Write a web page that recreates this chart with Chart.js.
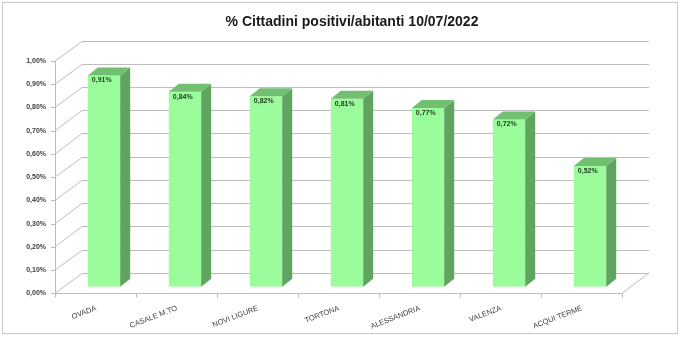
<!DOCTYPE html>
<html lang="it">
<head>
    <meta charset="UTF-8">
    <title>% Cittadini positivi/abitanti 10/07/2022</title>
    <script src="https://cdn.jsdelivr.net/npm/chart.js"></script>
    <style>
        body { margin: 0; background: #fff; }
        #wrap { width: 680px; height: 337px; position: relative; }
    </style>
</head>
<body>
    <div id="wrap"><canvas id="positiviChart"></canvas></div>
    <script>
        const categories = ['OVADA', 'CASALE M.TO', 'NOVI LIGURE', 'TORTONA', 'ALESSANDRIA', 'VALENZA', 'ACQUI TERME'];
        const positivi = [0.91, 0.84, 0.82, 0.81, 0.77, 0.72, 0.52];
        const yMin = 0, yMax = 1.0, yStep = 0.1;

        // 3D look: offset of axis plane and back wall from the bar plane
        const axisOff = { x: -8.5, y: 6.5 };
        const backOff = { x: 18.5, y: -14 };
        const depth = { x: 10, y: -8 };
        const gridColor = '#bdbdbd';

        const fmt = v => v.toFixed(2).replace('.', ',') + '%';

        const frame3d = {
            id: 'frame3d',
            beforeDraw(chart) {
                const c = chart.ctx;
                c.save();
                c.fillStyle = '#fff';
                c.fillRect(0, 0, chart.width, chart.height);
                c.strokeStyle = '#c8c8c8';
                c.lineWidth = 1;
                c.strokeRect(2.5, 2.5, 675, 331);
                c.restore();
            },
            beforeDatasetsDraw(chart) {
                const c = chart.ctx, x = chart.scales.x, y = chart.scales.y;
                const L = x.left, R = x.right, y0 = y.getPixelForValue(0);
                c.save();
                c.strokeStyle = gridColor;
                c.lineWidth = 1;
                c.beginPath();
                y.ticks.forEach(t => {
                    const py = Math.round(y.getPixelForValue(t.value) + backOff.y) + 0.5;
                    c.moveTo(L + backOff.x, py);
                    c.lineTo(R + backOff.x, py);
                    c.moveTo(L + axisOff.x, y.getPixelForValue(t.value) + axisOff.y);
                    c.lineTo(L + backOff.x, py);
                    // tick on front axis
                    const fy = Math.round(y.getPixelForValue(t.value) + axisOff.y) + 0.5;
                    c.moveTo(L + axisOff.x - 4, fy);
                    c.lineTo(L + axisOff.x, fy);
                });
                // floor right edge
                c.moveTo(R + axisOff.x, y0 + axisOff.y);
                c.lineTo(R + backOff.x, y0 + backOff.y);
                // front axes
                const ax = Math.round(L + axisOff.x) + 0.5;
                const ay = Math.round(y0 + axisOff.y) + 0.5;
                c.moveTo(ax, y.getPixelForValue(yMax) + axisOff.y);
                c.lineTo(ax, ay);
                c.lineTo(R + axisOff.x, ay);
                const slot = (R - L) / categories.length;
                for (let i = 0; i <= categories.length; i++) {
                    const tx = Math.round(L + axisOff.x + i * slot) + 0.5;
                    c.moveTo(tx, ay);
                    c.lineTo(tx, ay + 4);
                }
                c.stroke();
                c.restore();
            },
            afterDatasetsDraw(chart) {
                const c = chart.ctx;
                const meta = chart.getDatasetMeta(0);
                c.save();
                meta.data.forEach((bar, i) => {
                    const l = bar.x - bar.width / 2, r = bar.x + bar.width / 2;
                    // side face
                    c.fillStyle = '#5fa55f';
                    c.beginPath();
                    c.moveTo(r, bar.y);
                    c.lineTo(r + depth.x, bar.y + depth.y);
                    c.lineTo(r + depth.x, bar.base + depth.y);
                    c.lineTo(r, bar.base);
                    c.closePath();
                    c.fill();
                    // top face
                    c.fillStyle = '#72bf72';
                    c.beginPath();
                    c.moveTo(l, bar.y);
                    c.lineTo(l + depth.x, bar.y + depth.y);
                    c.lineTo(r + depth.x, bar.y + depth.y);
                    c.lineTo(r, bar.y);
                    c.closePath();
                    c.fill();
                    // value label
                    c.fillStyle = '#1e3a1e';
                    c.font = 'bold 7px "Liberation Sans"';
                    c.textAlign = 'left';
                    c.textBaseline = 'middle';
                    c.fillText(fmt(positivi[i]), l + 4, bar.y + 5);
                });
                c.restore();
            }
        };

        Chart.defaults.font.family = '"Liberation Sans", sans-serif';

        new Chart(document.getElementById('positiviChart'), {
            type: 'bar',
            data: {
                labels: categories,
                datasets: [{
                    data: positivi,
                    backgroundColor: '#9afc9a',
                    borderWidth: 0,
                    categoryPercentage: 1,
                    barPercentage: 0.4
                }]
            },
            options: {
                responsive: true,
                maintainAspectRatio: false,
                animation: false,
                events: [],
                layout: { padding: { left: 24, right: 0, top: 0, bottom: 0 }, autoPadding: false },
                plugins: {
                    legend: { display: false },
                    tooltip: { enabled: false },
                    title: {
                        display: true,
                        text: '% Cittadini positivi/abitanti 10/07/2022',
                        color: '#1a1a1a',
                        font: { size: 14, weight: 'bold' },
                        padding: { top: 13.6, bottom: 24.1 }
                    }
                },
                scales: {
                    x: {
                        grid: { display: false },
                        border: { display: false },
                        ticks: {
                            autoSkip: false,
                            minRotation: 21,
                            maxRotation: 21,
                            labelOffset: -8,
                            padding: 9,
                            color: '#404040',
                            font: { size: 7.5 }
                        },
                        afterFit: s => { s.height = 50.2; }
                    },
                    y: {
                        min: yMin,
                        max: yMax,
                        grid: { display: false, drawTicks: false },
                        border: { display: false },
                        ticks: {
                            stepSize: yStep,
                            labelOffset: 6.5,
                            padding: 17.5,
                            color: '#404040',
                            font: { size: 7, weight: 'bold' },
                            callback: v => fmt(v)
                        },
                        afterFit: s => { s.width = 39.5; }
                    },
                    y2: {
                        position: 'right',
                        grid: { display: false, drawTicks: false },
                        border: { display: false },
                        ticks: { display: false },
                        afterFit: s => { s.width = 49.5; }
                    }
                }
            },
            plugins: [frame3d]
        });
    </script>
</body>
</html>
